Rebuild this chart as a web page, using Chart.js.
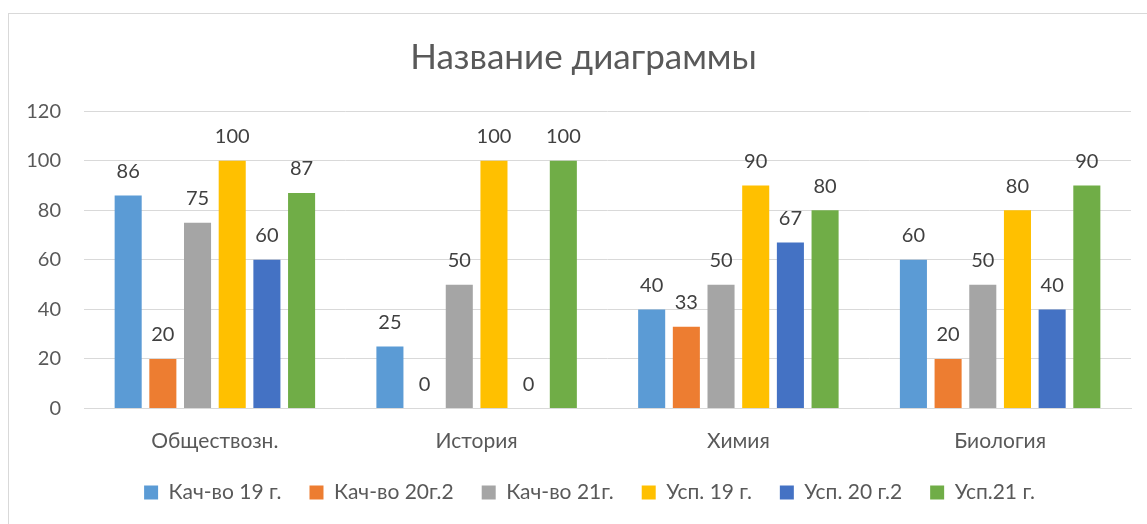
<!DOCTYPE html>
<html>
<head>
<meta charset="utf-8">
<script src="https://cdn.jsdelivr.net/npm/chart.js@4/dist/chart.umd.min.js"></script>
<style>
  body { margin: 0; background: #fff; overflow: hidden; }
  .frame { position: absolute; left: 8px; top: 13px; width: 1200px; height: 600px; border: 1px solid #d9d9d9; }
  .wrap { position: absolute; left: 0; top: 0; width: 1147px; height: 513px; }
</style>
</head>
<body>
<div class="frame"></div>
<div class="wrap"><canvas id="chart"></canvas></div>
<script>
const categories = ["Обществозн.", "История", "Химия", "Биология"];
const seriesNames = ["Кач-во 19 г.", "Кач-во 20г.2", "Кач-во 21г.", "Усп. 19 г.", "Усп. 20 г.2", "Усп.21 г."];
const kach19 = [86, 25, 40, 60];
const kach20 = [20, 0, 33, 20];
const kach21 = [75, 50, 50, 50];
const usp19 = [100, 100, 90, 80];
const usp20 = [60, 0, 67, 40];
const usp21 = [87, 100, 80, 90];
const colors = ["#5B9BD5", "#ED7D31", "#A5A5A5", "#FFC000", "#4472C4", "#70AD47"];
const yTicks = [0, 20, 40, 60, 80, 100, 120];

const FONT = "Lato, 'Liberation Sans', sans-serif";

// value labels above each bar
const valueLabels = {
  id: "valueLabels",
  afterDatasetsDraw(chart) {
    const ctx = chart.ctx;
    ctx.save();
    ctx.font = "20px " + FONT;
    ctx.fillStyle = "#404040";
    ctx.textAlign = "center";
    ctx.textBaseline = "middle";
    chart.data.datasets.forEach((ds, i) => {
      chart.getDatasetMeta(i).data.forEach((bar, j) => {
        ctx.fillText(ds.data[j], bar.x, bar.y - 24);
      });
    });
    ctx.restore();
  }
};

// nudge title and legend to the right, like the original frame
const nudge = {
  id: "nudge",
  afterLayout(chart) {
    if (chart.titleBlock) { chart.titleBlock.left += 6; chart.titleBlock.right += 6; }
    if (chart.legend) { chart.legend.left += 12; chart.legend.right += 12; }
  }
};

const allSeries = [kach19, kach20, kach21, usp19, usp20, usp21];

new Chart(document.getElementById("chart"), {
  type: "bar",
  data: {
    labels: categories,
    datasets: allSeries.map((d, i) => ({
      label: seriesNames[i],
      data: d,
      backgroundColor: colors[i],
      categoryPercentage: 0.795,
      barPercentage: 0.78
    }))
  },
  options: {
    responsive: true,
    maintainAspectRatio: false,
    animation: false,
    layout: { padding: { left: 24, right: 16, top: 0, bottom: 0 } },
    plugins: {
      title: {
        display: true,
        text: "Название диаграммы",
        color: "#595959",
        font: { family: FONT, size: 35, weight: "normal" },
        padding: { top: 37, bottom: 32.2 }
      },
      legend: {
        position: "bottom",
        labels: {
          color: "#595959",
          font: { family: FONT, size: 21 },
          boxWidth: 14,
          boxHeight: 14,
          padding: 28
        }
      },
      tooltip: { enabled: false }
    },
    scales: {
      x: {
        grid: { display: false, drawTicks: false },
        border: { color: "#d9d9d9" },
        ticks: { color: "#595959", font: { family: FONT, size: 21 }, padding: 20 },
        afterFit(scale) { scale.height = 45.5; }
      },
      y: {
        min: 0,
        max: 120,
        afterBuildTicks(scale) { scale.ticks = yTicks.map(v => ({ value: v })); },
        grid: { color: "#d9d9d9", drawTicks: false },
        border: { display: false },
        ticks: { color: "#595959", font: { family: FONT, size: 20 }, padding: 23 },
        afterFit(scale) { scale.width = 60; }
      }
    }
  },
  plugins: [valueLabels, nudge]
});
</script>
</body>
</html>
